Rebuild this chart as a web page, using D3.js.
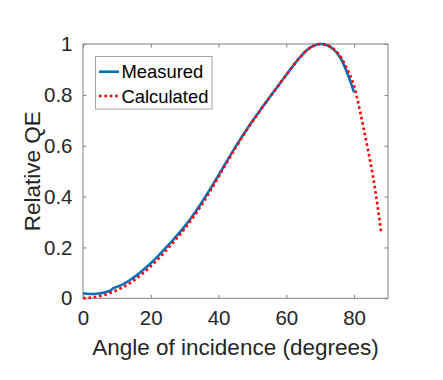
<!DOCTYPE html>
<html><head><meta charset="utf-8">
<script src="https://cdn.jsdelivr.net/npm/d3@7"></script>
<style>html,body{margin:0;padding:0;background:#fff;}svg{display:block;}</style>
</head><body>
<script>
const measuredAngle = [0,2,4,6,8,9,10,12,14,16,18,20,22,24,26,28,30,32,34,36,38,40,42,44,46,48,50,52,54,56,58,60,62,64,66,68,70,72,74,76,78,80];
const measuredQE    = [0.02,0.017,0.018,0.022,0.03,0.04,0.045,0.057,0.073,0.092,0.114,0.138,0.164,0.192,0.221,0.251,0.283,0.318,0.356,0.397,0.44,0.484,0.529,0.574,0.617,0.658,0.697,0.734,0.771,0.807,0.843,0.879,0.914,0.947,0.975,0.993,1.0,0.995,0.978,0.945,0.885,0.81];
const calcAngle = [0,2,4,6,8,10,12,14,16,18,20,22,24,26,28,30,32,34,36,38,40,42,44,46,48,50,52,54,56,58,60,62,64,66,68,70,72,74,76,78,80,82,84,86,88];
const calcQE    = [0,0.002,0.006,0.012,0.021,0.032,0.045,0.061,0.08,0.102,0.126,0.152,0.18,0.21,0.241,0.274,0.309,0.347,0.388,0.432,0.478,0.524,0.569,0.613,0.655,0.695,0.734,0.771,0.807,0.843,0.879,0.914,0.947,0.975,0.993,1.0,0.996,0.98,0.95,0.9,0.835,0.72,0.59,0.445,0.258];
const xTicks = [0,20,40,60,80];
const yTicks = [0,0.2,0.4,0.6,0.8,1];
const seriesNames = ["Measured","Calculated"];
const xLabel = "Angle of incidence (degrees)";
const yLabel = "Relative QE";

const W = 443, H = 380;
const L = 83, R = 388, T = 44, B = 298.3;
const font = "'Liberation Sans', Arial, Helvetica, sans-serif";
const txt = "#262626", axc = "#808080";

const svg = d3.select("body").append("svg").attr("width", W).attr("height", H);
const x = d3.scaleLinear().domain([0,90]).range([L,R]);
const y = d3.scaleLinear().domain([0,1]).range([B,T]);

svg.append("rect").attr("x",L).attr("y",T).attr("width",R-L).attr("height",B-T)
  .attr("fill","none").attr("stroke",axc).attr("stroke-width",1);

const tl = 3.5;
const axB = svg.append("g").attr("transform",`translate(0,${B})`)
  .call(d3.axisBottom(x).tickValues(xTicks).tickSizeInner(-tl).tickSizeOuter(0).tickPadding(tl+9).tickFormat(d3.format("d")));
const axT = svg.append("g").attr("transform",`translate(0,${T})`)
  .call(d3.axisTop(x).tickValues(xTicks).tickSizeInner(-tl).tickSizeOuter(0).tickFormat(""));
const axL = svg.append("g").attr("transform",`translate(${L},0)`)
  .call(d3.axisLeft(y).tickValues(yTicks).tickSizeInner(-tl).tickSizeOuter(0).tickPadding(tl+7).tickFormat(d=>d3.format("")(+d.toFixed(1))));
const axRt = svg.append("g").attr("transform",`translate(${R},0)`)
  .call(d3.axisRight(y).tickValues(yTicks).tickSizeInner(-tl).tickSizeOuter(0).tickFormat(""));
[axB,axT,axL,axRt].forEach(a=>{
  a.select(".domain").remove();
  a.selectAll("line").attr("stroke",axc);
  a.selectAll("text").attr("fill",txt).style("font-family",font).style("font-size","20.5px");
});

const line = d3.line().x(d=>x(d[0])).y(d=>y(d[1])).curve(d3.curveMonotoneX);
const mData = measuredAngle.map((a,i)=>[a,measuredQE[i]]);
const cData = calcAngle.map((a,i)=>[a,calcQE[i]]);
svg.append("path").datum(mData).attr("d",line).attr("fill","none")
  .attr("stroke","#0072BD").attr("stroke-width",2.6);
svg.append("path").datum(cData).attr("d",line).attr("fill","none")
  .attr("stroke","#FF0000").attr("stroke-width",2.6).attr("stroke-dasharray","2.6 2.8");

svg.append("text").attr("x",(L+R)/2).attr("y",355).attr("text-anchor","middle")
  .attr("fill",txt).style("font-family",font).style("font-size","22.5px").text(xLabel);
svg.append("text").attr("transform",`translate(40,${(T+B)/2}) rotate(-90)`).attr("text-anchor","middle")
  .attr("fill",txt).style("font-family",font).style("font-size","22.5px").text(yLabel);

const lg = svg.append("g");
lg.append("rect").attr("x",95.5).attr("y",56.5).attr("width",116.5).attr("height",52.5)
  .attr("fill","#fff").attr("stroke","#a6a6a6").attr("stroke-width",1);
const rows = [{c:"#0072BD",d:null,yy:71.7},{c:"#FF0000",d:"2.6 2.8",yy:96}];
rows.forEach((r,i)=>{
  lg.append("line").attr("x1",99).attr("x2",119).attr("y1",r.yy).attr("y2",r.yy)
    .attr("stroke",r.c).attr("stroke-width",2.6).attr("stroke-dasharray",r.d);
  lg.append("text").attr("x",121.5).attr("y",r.yy+6.5).attr("fill","#000")
    .style("font-family",font).style("font-size","18.4px").text(seriesNames[i]);
});
</script>
</body></html>
